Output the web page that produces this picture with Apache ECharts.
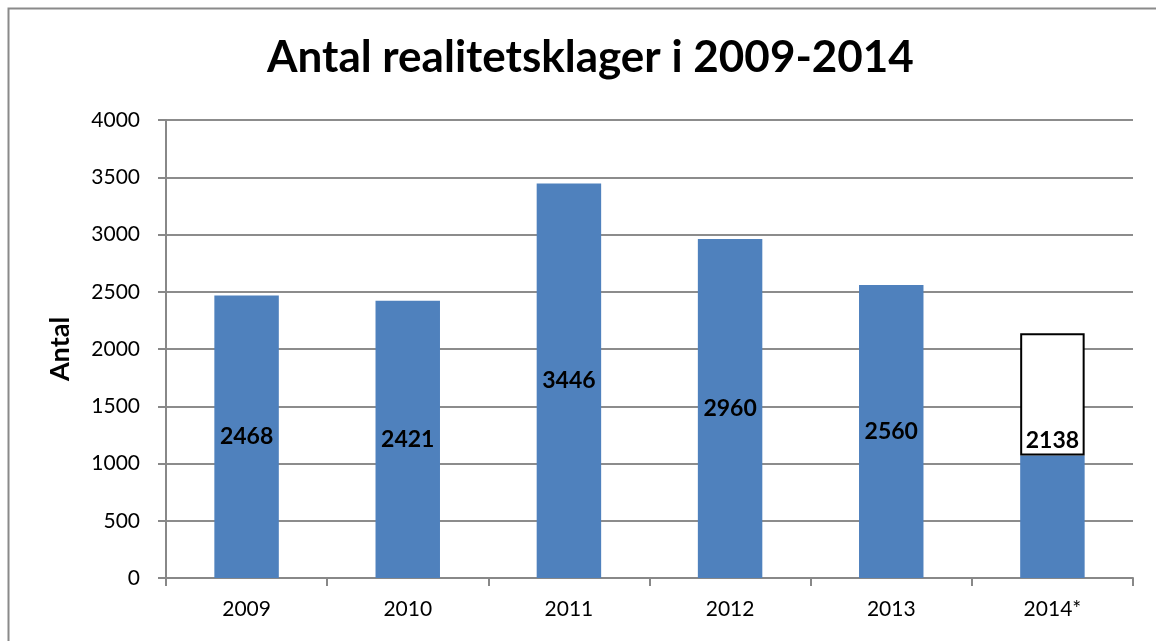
<!DOCTYPE html>
<html>
<head>
<meta charset="utf-8">
<script src="https://cdn.jsdelivr.net/npm/echarts@6/dist/echarts.min.js"></script>
<style>
  html, body { margin: 0; padding: 0; background: #fff; }
  #chart { width: 1156px; height: 641px; }
</style>
</head>
<body>
<div id="chart"></div>
<script>
const years = ["2009", "2010", "2011", "2012", "2013", "2014*"];
const totals = [2468, 2421, 3446, 2960, 2560, 2138];
// 2014 is split: blue = registered so far, white box = remainder of the estimate
const registered = [2468, 2421, 3446, 2960, 2560, 1069];
const remainder = [null, null, null, null, null, 1069];
const yTicks = [0, 500, 1000, 1500, 2000, 2500, 3000, 3500, 4000];

const chart = echarts.init(document.getElementById("chart"));
const font = "Lato, 'Open Sans', sans-serif";

const option = {
  animation: false,
  textStyle: { fontFamily: font },
  title: {
    text: "Antal realitetsklager i 2009-2014",
    left: 262,
    top: 31,
    textStyle: { fontSize: 44, fontWeight: "bold", color: "#000", fontFamily: font },
  },
  graphic: [
    {
      type: "rect",
      shape: { x: 8.5, y: 8.5, width: 1200, height: 700 },
      style: { fill: "none", stroke: "#8a8a8a", lineWidth: 2 },
      silent: true,
    },
  ],
  grid: { left: 166, right: 23, top: 120, bottom: 63 },
  xAxis: {
    type: "category",
    data: years,
    axisLine: { lineStyle: { color: "#888", width: 2 } },
    axisTick: { show: true, length: 8, lineStyle: { color: "#888", width: 2 } },
    axisLabel: { fontSize: 21, color: "#000", margin: 21 },
  },
  yAxis: {
    type: "value",
    min: yTicks[0],
    max: yTicks[yTicks.length - 1],
    interval: 500,
    name: "Antal",
    nameLocation: "middle",
    nameGap: 92,
    nameTextStyle: { fontSize: 27, fontWeight: "bold", color: "#000" },
    axisLine: { show: true, lineStyle: { color: "#888", width: 2 } },
    axisTick: { show: true, length: 8, lineStyle: { color: "#888", width: 2 } },
    axisLabel: { fontSize: 21, color: "#000", margin: 26, formatter: (v) => String(v) },
    splitLine: { lineStyle: { color: "#8c8c8c", width: 2 } },
  },
  series: [
    {
      type: "bar",
      stack: "a",
      data: registered,
      barWidth: "40%",
      itemStyle: { color: "#4F81BD" },
      label: {
        show: true,
        position: "inside",
        fontSize: 23,
        fontWeight: "bold",
        color: "#000",
        formatter: (p) => (remainder[p.dataIndex] == null ? String(totals[p.dataIndex]) : ""),
      },
    },
    {
      type: "bar",
      stack: "a",
      data: remainder,
      barWidth: "40%",
      itemStyle: { color: "#fff", borderColor: "#000", borderWidth: 2 },
      label: {
        show: true,
        position: "insideBottom",
        distance: 4,
        fontSize: 23,
        fontWeight: "bold",
        color: "#000",
        formatter: (p) => String(totals[p.dataIndex]),
      },
    },
  ],
};

chart.setOption(option);
</script>
</body>
</html>
